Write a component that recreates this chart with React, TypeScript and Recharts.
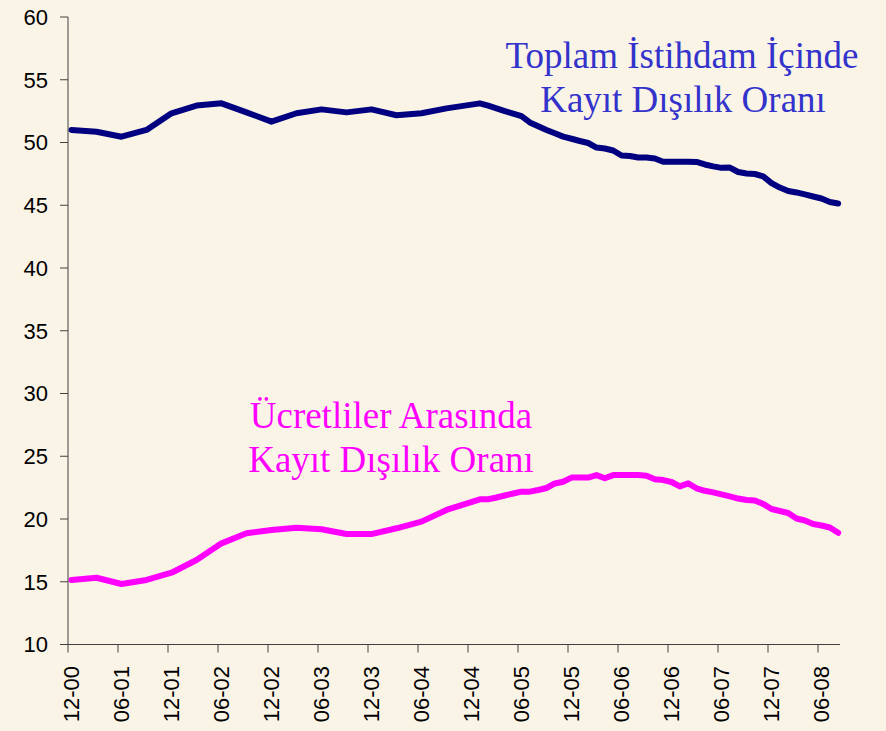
import React from 'react';
import { LineChart, Line, XAxis, YAxis } from 'recharts';

// month index since 12-00; quarterly to 2004, monthly from 2005
const months = [
  0, 3, 6, 9, 12, 15, 18, 21, 24, 27, 30, 33, 36, 39, 42, 45,
  49, 50, 51, 52, 53, 54, 55, 56, 57, 58, 59, 60, 61, 62, 63, 64, 65, 66, 67, 68, 69, 70,
  71, 72, 73, 74, 75, 76, 77, 78, 79, 80, 81, 82, 83, 84, 85, 86, 87, 88, 89, 90, 91, 92,
];

const toplam = [
  51.0, 50.86, 50.46, 51.0, 52.33, 52.94, 53.12, 52.4, 51.66, 52.33, 52.64, 52.4, 52.64, 52.17, 52.33, 52.72,
  53.12, 52.93, 52.72, 52.5, 52.3, 52.1, 51.6, 51.3, 51.0, 50.74, 50.47, 50.3, 50.12, 49.96, 49.6, 49.52, 49.36,
  48.96, 48.92, 48.8, 48.8, 48.73, 48.47, 48.47, 48.47, 48.47, 48.45, 48.25, 48.1, 47.98, 48.0, 47.65, 47.53,
  47.49, 47.3, 46.77, 46.41, 46.14, 46.02, 45.86, 45.7, 45.54, 45.26, 45.14,
];

const ucretli = [
  15.14, 15.32, 14.82, 15.14, 15.72, 16.73, 18.06, 18.86, 19.12, 19.31, 19.18, 18.8, 18.8, 19.26, 19.79, 20.72,
  21.57, 21.57, 21.71, 21.87, 22.03, 22.18, 22.18, 22.31, 22.47, 22.83, 22.97, 23.3, 23.3, 23.3, 23.5, 23.25, 23.5,
  23.5, 23.5, 23.5, 23.45, 23.16, 23.1, 22.95, 22.6, 22.84, 22.45, 22.25, 22.12, 21.96, 21.8, 21.63, 21.51,
  21.47, 21.2, 20.8, 20.64, 20.48, 20.04, 19.88, 19.6, 19.48, 19.32, 18.9,
];

const tickMonths = [0, 6, 12, 18, 24, 30, 36, 42, 48, 54, 60, 66, 72, 78, 84, 90];
const tickLabels = [
  '12-00', '06-01', '12-01', '06-02', '12-02', '06-03', '12-03', '06-04',
  '12-04', '06-05', '12-05', '06-06', '12-06', '06-07', '12-07', '06-08',
];
const yTicks = [10, 15, 20, 25, 30, 35, 40, 45, 50, 55, 60];

const data = months.map((m, i) => ({ x: m + 0.42, toplam: toplam[i], ucretli: ucretli[i] }));

const BG = '#FAF4E7';
const FONT = '"Liberation Sans", Arial, sans-serif';
const SERIF = '"Liberation Serif", "Times New Roman", serif';

const XTick = (props: any) => {
  const { x, payload } = props;
  const i = tickMonths.indexOf(payload.value);
  const cx = x + 3.5;
  const cy = 666;
  return (
    <text
      x={cx}
      y={cy}
      transform={`rotate(-90, ${cx}, ${cy})`}
      textAnchor="end"
      dominantBaseline="central"
      fontSize={22}
      fontFamily={FONT}
      fill="#000"
    >
      {tickLabels[i]}
    </text>
  );
};

export default function App() {
  return (
    <div style={{ position: 'absolute', left: 0, top: 0, width: 886, height: 731, background: BG }}>
      <LineChart
        width={886}
        height={731}
        data={data}
        margin={{ top: 17, right: 46, bottom: 6.5, left: 8 }}
      >
        <XAxis
          dataKey="x"
          type="number"
          domain={[0, 92.64]}
          ticks={tickMonths}
          interval={0}
          height={80}
          tickSize={8}
          stroke="#404040"
          tick={<XTick />}
        />
        <YAxis
          type="number"
          domain={[10, 60]}
          ticks={yTicks}
          interval={0}
          width={60}
          tickSize={8}
          tickMargin={12}
          stroke="#404040"
          tick={{ fontSize: 22, fontFamily: FONT, fill: '#000' }}
        />
        <Line
          dataKey="toplam"
          type="linear"
          stroke="#000080"
          strokeWidth={6}
          dot={false}
          strokeLinejoin="round"
          strokeLinecap="round"
          isAnimationActive={false}
        />
        <Line
          dataKey="ucretli"
          type="linear"
          stroke="#FF00FF"
          strokeWidth={6}
          dot={false}
          strokeLinejoin="round"
          strokeLinecap="round"
          isAnimationActive={false}
        />
      </LineChart>
      <svg
        width={886}
        height={731}
        style={{ position: 'absolute', left: 0, top: 0, pointerEvents: 'none' }}
      >
        <g fontFamily={SERIF} fontSize={37} textAnchor="middle">
          <text x={682} y={68} fill="#3333CC">Toplam İstihdam İçinde</text>
          <text x={683} y={112} fill="#3333CC">Kayıt Dışılık Oranı</text>
          <text x={391} y={428} fill="#FF00FF">Ücretliler Arasında</text>
          <text x={391} y={472} fill="#FF00FF">Kayıt Dışılık Oranı</text>
        </g>
      </svg>
    </div>
  );
}
